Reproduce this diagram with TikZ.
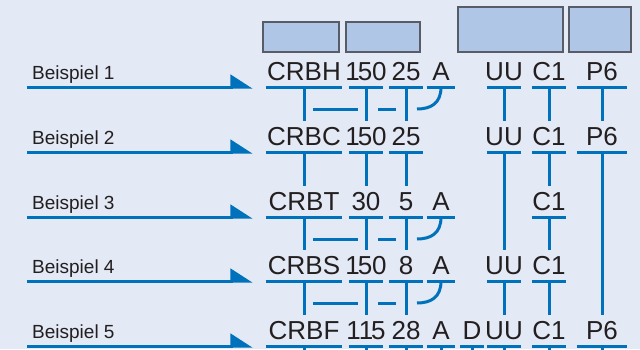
\documentclass[tikz,border=0pt]{standalone}
\usepackage{fontspec}
\setmainfont{Liberation Sans}
\usetikzlibrary{arrows.meta}
\definecolor{bgblue}{RGB}{227,233,245}
\definecolor{boxblue}{RGB}{176,198,230}
\definecolor{boxline}{RGB}{88,92,102}
\definecolor{linkblue}{RGB}{0,114,188}
\definecolor{txt}{RGB}{35,31,32}
\newcommand{\tk}[1]{\makebox[0pt]{#1}}
\newcommand{\one}{1\kern-2pt}

\begin{document}
\begin{tikzpicture}[x=1pt,y=-1pt,
  tok/.style={font=\fontsize{26}{26}\selectfont, text=txt, inner sep=0pt, text depth=7pt, anchor=base},
  cr/.style={tok, minimum width=76pt},
  nm/.style={tok, minimum width=34pt},
  aa/.style={tok, minimum width=28pt},
  dd/.style={tok, minimum width=23pt},
  pp/.style={tok, minimum width=50pt},
  lab/.style={font=\fontsize{19}{19}\selectfont, text=txt, inner sep=0pt, anchor=base west},
  hdr/.style={draw=boxline, fill=boxblue, line width=1.2pt, inner sep=0pt},
  bar/.style={draw=linkblue, line width=3pt},
  stem/.style={bar, shorten >=6pt},
  arr/.style={draw=linkblue, line width=3pt, -{Triangle[harpoon,length=20pt,width=25pt]}}]

\useasboundingbox (0,0) rectangle (640,349);
\clip (0,0) rectangle (640,349);
\fill[bgblue] (0,0) rectangle (640,349);

% Header boxes
\node[hdr, minimum width=76pt, minimum height=30pt] (h1) at (301,37) {};
\node[hdr, minimum width=74pt, minimum height=30pt] (h2) at (383,37) {};
\node[hdr, minimum width=105pt, minimum height=45pt] (h3) at (510.5,29.5) {};
\node[hdr, minimum width=62pt, minimum height=45pt] (h4) at (600,29.5) {};

% Beispiel 1
\node[lab] (b1) at (32,79) {Beispiel 1};
\node[cr] (r1c1) at (304,80) {\tk{CRBH}};
\node[nm] (r1c2) at (366,80) {\tk{\one 50}};
\node[nm] (r1c3) at (406,80) {\tk{25}};
\node[aa] (r1c4) at (441,80) {\tk{A}};
\node[nm] (r1c6) at (504,80) {\tk{UU}};
\node[nm] (r1c7) at (549,80) {\tk{C1}};
\node[pp] (r1c8) at (602,80) {\tk{P6}};

% Beispiel 2
\node[lab] (b2) at (32,144) {Beispiel 2};
\node[cr] (r2c1) at (304,145) {\tk{CRBC}};
\node[nm] (r2c2) at (366,145) {\tk{\one 50}};
\node[nm] (r2c3) at (406,145) {\tk{25}};
\node[nm] (r2c6) at (504,145) {\tk{UU}};
\node[nm] (r2c7) at (549,145) {\tk{C1}};
\node[pp] (r2c8) at (602,145) {\tk{P6}};

% Beispiel 3
\node[lab] (b3) at (32,209) {Beispiel 3};
\node[cr] (r3c1) at (304,210) {\tk{CRBT}};
\node[nm] (r3c2) at (366,210) {\tk{30}};
\node[nm] (r3c3) at (406,210) {\tk{5}};
\node[aa] (r3c4) at (441,210) {\tk{A}};
\node[nm] (r3c7) at (549,210) {\tk{C1}};

% Beispiel 4
\node[lab] (b4) at (32,273) {Beispiel 4};
\node[cr] (r4c1) at (304,274) {\tk{CRBS}};
\node[nm] (r4c2) at (366,274) {\tk{\one 50}};
\node[nm] (r4c3) at (406,274) {\tk{8}};
\node[aa] (r4c4) at (441,274) {\tk{A}};
\node[nm] (r4c6) at (504,274) {\tk{UU}};
\node[nm] (r4c7) at (549,274) {\tk{C1}};

% Beispiel 5
\node[lab] (b5) at (32,338) {Beispiel 5};
\node[cr] (r5c1) at (304,339) {\tk{CRBF}};
\node[nm] (r5c2) at (366,339) {\tk{\one\one 5}};
\node[nm] (r5c3) at (406,339) {\tk{28}};
\node[aa] (r5c4) at (441,339) {\tk{A}};
\node[dd] (r5c5) at (472,339) {\tk{D}};
\node[nm] (r5c6) at (504,339) {\tk{UU}};
\node[nm] (r5c7) at (549,339) {\tk{C1}};
\node[pp] (r5c8) at (602,339) {\tk{P6}};

% Arrows
\draw[arr] ([xshift=-5pt]b1.base west |- r1c1.south) -- ([xshift=-13pt]r1c1.south west);
\draw[arr] ([xshift=-5pt]b2.base west |- r2c1.south) -- ([xshift=-13pt]r2c1.south west);
\draw[arr] ([xshift=-5pt]b3.base west |- r3c1.south) -- ([xshift=-13pt]r3c1.south west);
\draw[arr] ([xshift=-5pt]b4.base west |- r4c1.south) -- ([xshift=-13pt]r4c1.south west);
\draw[arr] ([xshift=-5pt]b5.base west |- r5c1.south) -- ([xshift=-13pt]r5c1.south west);

% Underlines
\foreach \n in {r1c1,r1c2,r1c3,r1c4,r1c6,r1c7,r1c8,
                r2c1,r2c2,r2c3,r2c6,r2c7,r2c8,
                r3c1,r3c2,r3c3,r3c4,r3c7,
                r4c1,r4c2,r4c3,r4c4,r4c6,r4c7,
                r5c1,r5c2,r5c3,r5c4,r5c5,r5c6,r5c7,r5c8}
  \draw[bar] (\n.south west) -- (\n.south east);

% Stems
\draw[stem] (r1c1.south) -- (r2c1.north);
\draw[stem] (r1c2.south) -- (r2c2.north);
\draw[stem] (r1c3.south) -- (r2c3.north);
\draw[stem] (r1c6.south) -- (r2c6.north);
\draw[stem] (r1c7.south) -- (r2c7.north);
\draw[stem] (r1c8.south) -- (r2c8.north);

\draw[stem] (r2c1.south) -- (r3c1.north);
\draw[stem] (r2c2.south) -- (r3c2.north);
\draw[stem] (r2c3.south) -- (r3c3.north);
\draw[stem] (r2c6.south) -- (r4c6.north);
\draw[stem] (r2c7.south) -- (r3c7.north);
\draw[stem] (r2c8.south) -- (r5c8.north);

\draw[stem] (r3c1.south) -- (r4c1.north);
\draw[stem] (r3c2.south) -- (r4c2.north);
\draw[stem] (r3c3.south) -- (r4c3.north);
\draw[stem] (r3c7.south) -- (r4c7.north);

\draw[stem] (r4c1.south) -- (r5c1.north);
\draw[stem] (r4c2.south) -- (r5c2.north);
\draw[stem] (r4c3.south) -- (r5c3.north);
\draw[stem] (r4c6.south) -- (r5c6.north);
\draw[stem] (r4c7.south) -- (r5c7.north);

\foreach \n in {r5c1,r5c2,r5c3,r5c4,r5c5,r5c6,r5c7,r5c8}
  \draw[bar] (\n.south) -- ++(0,10);

% Cross links with the A branch
\coordinate (m1) at (0,109);
\coordinate (m3) at (0,239);
\coordinate (m4) at (0,303);
\draw[bar] ([xshift=9pt]r1c1.south |- m1) -- ([xshift=-8pt]r1c2.south |- m1);
\draw[bar] ([xshift=12pt]r1c2.south |- m1) -- ([xshift=-10pt]r1c3.south |- m1);
\draw[bar] (r1c4.south) .. controls +(0,16) and +(14,0) .. ([xshift=11pt]r1c3.south |- m1);

\draw[bar] ([xshift=9pt]r3c1.south |- m3) -- ([xshift=-8pt]r3c2.south |- m3);
\draw[bar] ([xshift=12pt]r3c2.south |- m3) -- ([xshift=-10pt]r3c3.south |- m3);
\draw[bar] (r3c4.south) .. controls +(0,16) and +(14,0) .. ([xshift=11pt]r3c3.south |- m3);

\draw[bar] ([xshift=9pt]r4c1.south |- m4) -- ([xshift=-8pt]r4c2.south |- m4);
\draw[bar] ([xshift=12pt]r4c2.south |- m4) -- ([xshift=-10pt]r4c3.south |- m4);
\draw[bar] (r4c4.south) .. controls +(0,16) and +(14,0) .. ([xshift=11pt]r4c3.south |- m4);

\end{tikzpicture}
\end{document}
